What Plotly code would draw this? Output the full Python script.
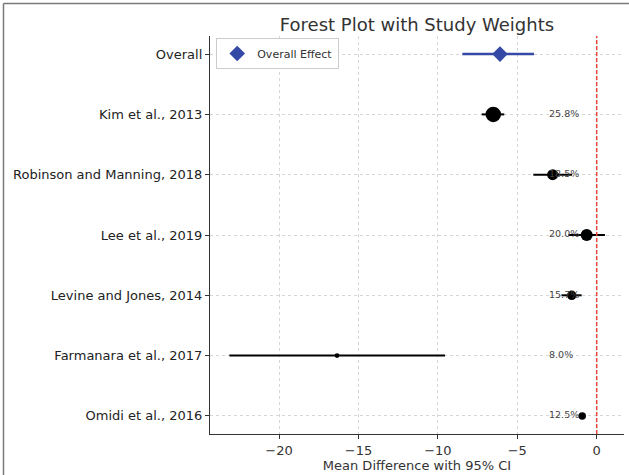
import plotly.graph_objects as go

studies = ["Kim et al., 2013", "Robinson and Manning, 2018", "Lee et al., 2019",
           "Levine and Jones, 2014", "Farmanara et al., 2017", "Omidi et al., 2016"]
effects = [-6.51, -2.77, -0.63, -1.57, -16.35, -0.91]
ci_low = [-7.24, -3.99, -1.78, -2.22, -23.13, -1.05]
ci_high = [-5.82, -1.55, 0.52, -0.95, -9.55, -0.77]
weights = [25.8, 18.5, 20.0, 15.7, 8.0, 12.5]

overall_label = "Overall"
overall_effect = -6.09
overall_low = -8.46
overall_high = -3.95

x_ticks = [-20, -15, -10, -5, 0]
weight_text_x = -3.0

n = len(studies)
ypos = [n - 1 - i for i in range(n)]  # Kim at top (5) ... Omidi at 0
y_overall = n

fig = go.Figure()

# study CIs
for i in range(n):
    fig.add_trace(go.Scatter(
        x=[ci_low[i], ci_high[i]], y=[ypos[i], ypos[i]], mode="lines",
        line=dict(color="black", width=2), showlegend=False, hoverinfo="skip"))

# study points
fig.add_trace(go.Scatter(
    x=effects, y=ypos, mode="markers",
    marker=dict(color="black", size=[w * 0.6 for w in weights], line=dict(width=0),
                opacity=1),
    showlegend=False))

# weight labels
fig.add_trace(go.Scatter(
    x=[weight_text_x] * n, y=ypos, mode="text",
    text=[f"{w:.1f}%" for w in weights], textposition="middle right",
    textfont=dict(size=9.5, color="#444444", family="DejaVu Sans"),
    showlegend=False, hoverinfo="skip"))

# overall
fig.add_trace(go.Scatter(
    x=[overall_low, overall_high], y=[y_overall, y_overall], mode="lines",
    line=dict(color="#3349a5", width=2.5), showlegend=False, hoverinfo="skip"))
fig.add_trace(go.Scatter(
    x=[overall_effect], y=[y_overall], mode="markers", name="Overall Effect",
    marker=dict(symbol="diamond", color="#3349a5", size=12)))

# vertical zero line
fig.add_shape(type="line", x0=0, x1=0, y0=0, y1=1, xref="x", yref="paper",
              line=dict(color="#e8463a", width=1.5, dash="4px,2px"))

# image frame (left & top)
fig.add_shape(type="line", xref="paper", yref="paper", x0=-0.4988, x1=-0.4988,
              y0=1.0817, y1=-0.2, line=dict(color="#7a7a7a", width=1.5))
fig.add_shape(type="line", xref="paper", yref="paper", x0=-0.4988, x1=1.02,
              y0=1.0817, y1=1.0817, line=dict(color="#7a7a7a", width=1.5))

fig.update_layout(
    width=629, height=475,
    margin=dict(l=210, r=5, t=36, b=41),
    plot_bgcolor="white", paper_bgcolor="white",
    font=dict(family="DejaVu Sans", color="#222222"),
    title=dict(text="Forest Plot with Study Weights", xref="paper", x=0.5,
               xanchor="center", y=0.948, yanchor="middle",
               font=dict(size=18, color="#333333")),
    legend=dict(x=0.015, y=0.995, xanchor="left", yanchor="top",
                bordercolor="#cccccc", borderwidth=1, bgcolor="white",
                font=dict(size=11, color="#333333"), itemwidth=30,
                tracegroupgap=0),
    xaxis=dict(range=[-24.35, 1.72], tickvals=x_ticks,
               ticktext=["\u2212" + str(-t) if t < 0 else str(t) for t in x_ticks],
               showgrid=True, gridcolor="#d6d6d6", griddash="dot", gridwidth=1,
               zeroline=False, showline=True, linecolor="#333333", linewidth=1.2,
               ticks="outside", ticklen=4, tickcolor="#333333",
               tickfont=dict(size=13, color="#333333"),
               title=dict(text="Mean Difference with 95% CI", standoff=2,
                          font=dict(size=13, color="#333333"))),
    yaxis=dict(range=[-0.3, n + 0.3], tickvals=ypos + [y_overall],
               ticktext=studies + [overall_label],
               showgrid=True, gridcolor="#d6d6d6", griddash="dot", gridwidth=1,
               zeroline=False, showline=True, linecolor="#333333", linewidth=1.2,
               ticks="outside", ticklen=4, tickcolor="#333333",
               tickfont=dict(size=13, color="#222222")),
)

fig.write_html("out.html", config={"displayModeBar": False},
               post_script="document.body.style.margin='0';document.body.style.overflow='hidden';")
